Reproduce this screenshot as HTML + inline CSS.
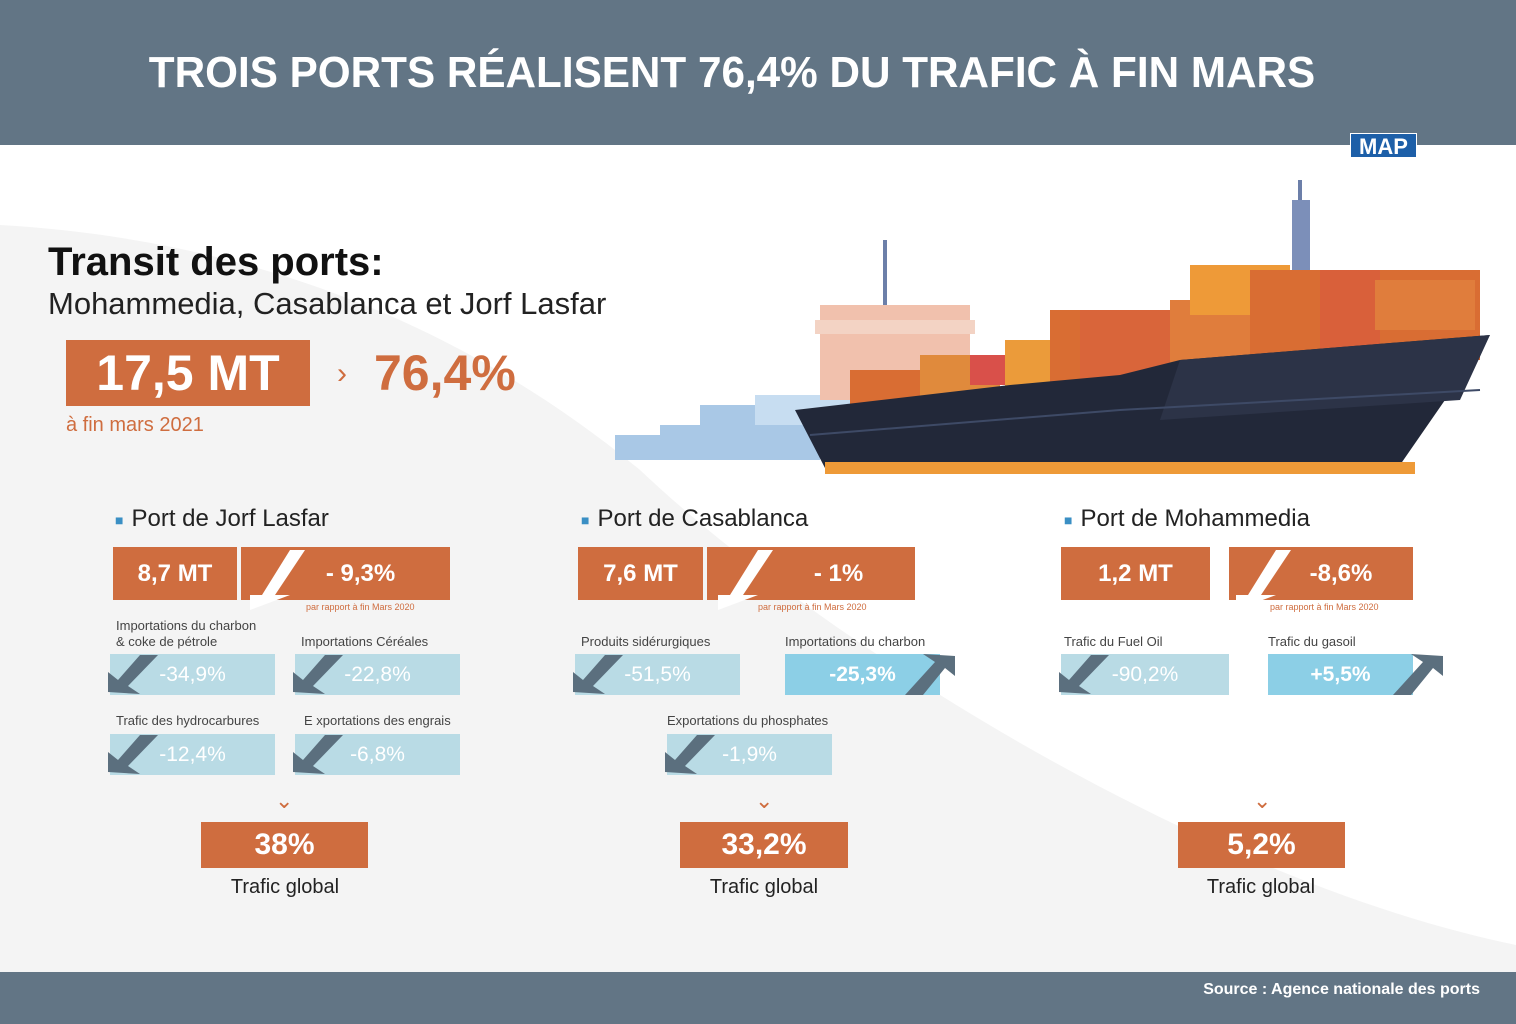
<!DOCTYPE html>
<html><head><meta charset="utf-8"><style>
*{margin:0;padding:0;box-sizing:border-box}
body{width:1516px;height:1024px;position:relative;overflow:hidden;background:#fff;font-family:"Liberation Sans",sans-serif}
.a{position:absolute}
.or{background:#cf6d3f;color:#fff;font-weight:bold;display:flex;align-items:center;justify-content:center}
.lb{background:#b9dbe5;color:#fff;font-size:21px;display:flex;align-items:center;justify-content:center}
.bb{background:#8ccfe6;color:#fff;font-size:21px;display:flex;align-items:center;justify-content:center;font-weight:bold}
.lab{font-size:13px;color:#444;line-height:16px}
.tt{font-size:24px;color:#222}
.tt b{color:#3a8fc4;font-size:14px;vertical-align:middle;margin-right:8px}
.sm{font-size:9px;color:#cf6d3f}
.chev{font-size:22px;color:#cf6d3f}
.tg{font-size:20px;color:#222;width:200px;text-align:center}
</style></head><body>
<svg class="a" style="left:0;top:0" width="1516" height="1024">
<path d="M0,225 C260,240 470,330 640,470 C820,640 1200,880 1516,945 L1516,972 L0,972 Z" fill="#f4f4f4"/>
</svg>
<div class="a" style="left:0;top:0;width:1516px;height:145px;background:#627585"></div>
<div class="a" style="left:0;top:48px;width:1464px;text-align:center;color:#fff;font-weight:bold;font-size:44px;transform:scaleX(0.96)">TROIS PORTS RÉALISENT 76,4% DU TRAFIC À FIN MARS</div>
<div class="a" style="left:1350px;top:133px;width:67px;height:25px;background:#1d5fa8;color:#fff;font-weight:bold;font-size:22px;text-align:center;line-height:25px;border:1px solid #fff">MAP</div>
<div class="a" style="left:0;top:972px;width:1516px;height:52px;background:#627585"></div>
<div class="a" style="right:36px;top:981px;color:#fff;font-weight:bold;font-size:16px">Source : Agence nationale des ports</div>

<svg class="a" style="left:600px;top:170px" width="900" height="320">
<g fill="#a9c8e6"><rect x="15" y="265" width="80" height="25"/><rect x="60" y="255" width="90" height="35"/><rect x="100" y="235" width="120" height="55"/><rect x="155" y="225" width="100" height="30" fill="#c7ddf1"/></g>
<line x1="285" y1="70" x2="285" y2="150" stroke="#6c7fa9" stroke-width="4"/>
<line x1="700" y1="10" x2="700" y2="100" stroke="#6c7fa9" stroke-width="4"/>
<rect x="692" y="30" width="18" height="80" fill="#7c8fb9"/>
<rect x="220" y="135" width="150" height="95" fill="#f1c1ad"/>
<rect x="215" y="150" width="160" height="14" fill="#f3d3c4"/>
<g fill="#d96d33"><rect x="250" y="200" width="130" height="50"/><rect x="320" y="185" width="80" height="50" fill="#e08a3c"/><rect x="370" y="185" width="45" height="30" fill="#d9504a"/><rect x="405" y="170" width="50" height="60" fill="#eb9b3a"/><rect x="450" y="140" width="60" height="80"/><rect x="480" y="140" width="100" height="90" fill="#d9653a"/><rect x="570" y="130" width="110" height="80" fill="#e07d3c"/><rect x="590" y="95" width="100" height="50" fill="#ee9a38"/><rect x="650" y="100" width="230" height="90"/><rect x="720" y="100" width="60" height="90" fill="#d9603a"/><rect x="775" y="110" width="100" height="50" fill="#e07d3c"/></g>
<polygon points="195,240 410,215 520,205 580,190 890,165 800,295 225,298" fill="#222839"/>
<polygon points="580,190 890,165 860,230 560,250" fill="#2c3347"/>
<polyline points="210,265 520,240 880,220" fill="none" stroke="#3e4a66" stroke-width="2"/>
<rect x="225" y="292" width="590" height="12" fill="#ee9a38"/>
</svg>

<div class="a" style="left:48px;top:240px;font-size:40px;font-weight:bold;color:#111">Transit des ports:</div>
<div class="a" style="left:48px;top:286px;font-size:31px;color:#222">Mohammedia, Casablanca et Jorf Lasfar</div>
<div class="a or" style="left:66px;top:340px;width:244px;height:66px;font-size:50px">17,5 MT</div>
<div class="a" style="left:337px;top:357px;font-size:30px;color:#cf6d3f">›</div>
<div class="a" style="left:374px;top:344px;font-size:50px;font-weight:bold;color:#cf6d3f">76,4%</div>
<div class="a" style="left:66px;top:414px;font-size:20px;color:#cf6d3f">à fin mars 2021</div>

<!-- Jorf -->
<div class="a tt" style="left:115px;top:505px"><b>■</b>Port de Jorf Lasfar</div>
<div class="a or" style="left:113px;top:547px;width:124px;height:53px;font-size:24px">8,7 MT</div>
<div class="a or" style="left:241px;top:547px;width:209px;height:53px;font-size:24px;padding-left:30px">- 9,3%</div>
<div class="a sm" style="left:306px;top:602px">par rapport à fin Mars 2020</div>
<div class="a lab" style="left:116px;top:618px">Importations du charbon<br>&amp; coke de pétrole</div>
<div class="a lab" style="left:301px;top:634px">Importations Céréales</div>
<div class="a lb" style="left:110px;top:654px;width:165px;height:41px">-34,9%</div>
<div class="a lb" style="left:295px;top:654px;width:165px;height:41px">-22,8%</div>
<div class="a lab" style="left:116px;top:713px">Trafic des hydrocarbures</div>
<div class="a lab" style="left:304px;top:713px">E xportations des engrais</div>
<div class="a lb" style="left:110px;top:734px;width:165px;height:41px">-12,4%</div>
<div class="a lb" style="left:295px;top:734px;width:165px;height:41px">-6,8%</div>
<div class="a chev" style="left:275px;top:788px">⌄</div>
<div class="a or" style="left:201px;top:822px;width:167px;height:46px;font-size:30px">38%</div>
<div class="a tg" style="left:185px;top:876px">Trafic global</div>

<!-- Casa -->
<div class="a tt" style="left:581px;top:505px"><b>■</b>Port de Casablanca</div>
<div class="a or" style="left:578px;top:547px;width:125px;height:53px;font-size:24px">7,6 MT</div>
<div class="a or" style="left:707px;top:547px;width:208px;height:53px;font-size:24px;padding-left:55px">- 1%</div>
<div class="a sm" style="left:758px;top:602px">par rapport à fin Mars 2020</div>
<div class="a lab" style="left:581px;top:634px">Produits sidérurgiques</div>
<div class="a lab" style="left:785px;top:634px">Importations du charbon</div>
<div class="a lb" style="left:575px;top:654px;width:165px;height:41px">-51,5%</div>
<div class="a bb" style="left:785px;top:654px;width:155px;height:41px">-25,3%</div>
<div class="a lab" style="left:667px;top:713px">Exportations du phosphates</div>
<div class="a lb" style="left:667px;top:734px;width:165px;height:41px">-1,9%</div>
<div class="a chev" style="left:755px;top:788px">⌄</div>
<div class="a or" style="left:680px;top:822px;width:168px;height:46px;font-size:30px">33,2%</div>
<div class="a tg" style="left:664px;top:876px">Trafic global</div>

<!-- Mohammedia -->
<div class="a tt" style="left:1064px;top:505px"><b>■</b>Port de Mohammedia</div>
<div class="a or" style="left:1061px;top:547px;width:149px;height:53px;font-size:24px">1,2 MT</div>
<div class="a or" style="left:1229px;top:547px;width:184px;height:53px;font-size:24px;padding-left:40px">-8,6%</div>
<div class="a sm" style="left:1270px;top:602px">par rapport à fin Mars 2020</div>
<div class="a lab" style="left:1064px;top:634px">Trafic du Fuel Oil</div>
<div class="a lab" style="left:1268px;top:634px">Trafic du gasoil</div>
<div class="a lb" style="left:1061px;top:654px;width:168px;height:41px">-90,2%</div>
<div class="a bb" style="left:1268px;top:654px;width:145px;height:41px">+5,5%</div>
<div class="a chev" style="left:1253px;top:788px">⌄</div>
<div class="a or" style="left:1178px;top:822px;width:167px;height:46px;font-size:30px">5,2%</div>
<div class="a tg" style="left:1161px;top:876px">Trafic global</div>

<svg class="a" style="left:0;top:0;pointer-events:none" width="1516" height="1024">
<g fill="#fff">
<polygon points="250,595 262,595 290,550 305,550 275,595 290,595 250,610"/>
<polygon points="718,595 730,595 758,550 773,550 743,595 758,595 718,610"/>
<polygon points="1236,595 1248,595 1276,550 1291,550 1261,595 1276,595 1236,610"/>
</g>
<g fill="#5b6f7e">
<polygon points="108,692 108,672 118,680 140,655 158,655 128,686 140,694"/>
<polygon points="293,692 293,672 303,680 325,655 343,655 313,686 325,694"/>
<polygon points="108,772 108,752 118,760 140,735 158,735 128,766 140,774"/>
<polygon points="293,772 293,752 303,760 325,735 343,735 313,766 325,774"/>
<polygon points="573,692 573,672 583,680 605,655 623,655 593,686 605,694"/>
<polygon points="665,772 665,752 675,760 697,735 715,735 685,766 697,774"/>
<polygon points="1059,692 1059,672 1069,680 1091,655 1109,655 1079,686 1091,694"/>
<polygon points="955,656 955,676 945,668 923,695 905,695 935,662 923,654"/>
<polygon points="1443,656 1443,676 1433,668 1411,695 1393,695 1423,662 1411,654"/>
</g>
</svg>
</body></html>
